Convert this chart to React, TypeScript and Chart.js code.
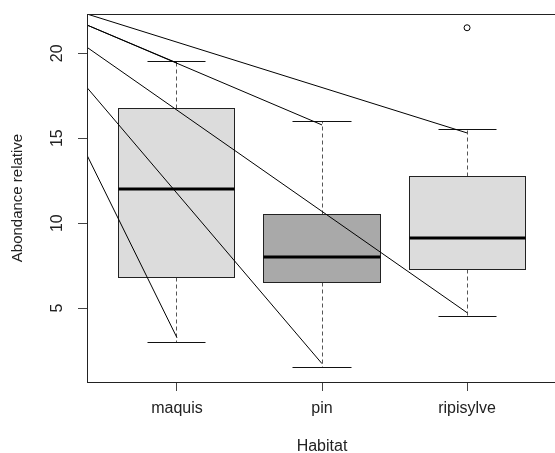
import React, { useEffect, useRef } from "react";
import { Chart, registerables } from "chart.js";

Chart.register(...registerables);

// ---- data ----
const habitats = ["maquis", "pin", "ripisylve"];
const positions = [1, 2, 3];
const whiskerLow = [3.0, 1.5, 4.5];
const quartile1 = [6.8, 6.5, 7.3];
const medians = [12.0, 8.0, 9.1];
const quartile3 = [16.75, 10.5, 12.75];
const whiskerHigh = [19.5, 16.0, 15.5];
const outlierPositions = [3];
const outlierValues = [21.5];
const yTicks = [5, 10, 15, 20];
const yRange = [0.65, 22.31];
const xRange = [0.38, 3.62];

// segments drawn from the left edge of the plot to near the whisker ends
const segmentStartValues = [22.31, 21.66, 21.66, 20.35, 17.98, 14.0];
const segmentEndPositions = [3, 2, 1, 3, 2, 1];
const segmentEndValues = [15.31, 15.78, 19.43, 4.73, 1.73, 3.26];

// ---- styles ----
const boxFills = ["#DCDCDC", "#A9A9A9", "#DCDCDC"];
const FONT = "'Liberation Sans', Arial, Helvetica, sans-serif";
const CANVAS_W = 600;
const CANVAS_H = 453;

const crisp = (v: number) => Math.round(v - 0.5) + 0.5;

const boxplotPlugin = {
  id: "boxplot",
  beforeDatasetsDraw(chart: any) {
    const { ctx, chartArea, scales } = chart;
    const x = scales.x;
    const y = scales.y;
    ctx.save();
    ctx.beginPath();
    ctx.rect(chartArea.left, chartArea.top, chartArea.right - chartArea.left, chartArea.bottom - chartArea.top);
    ctx.clip();
    positions.forEach((p, i) => {
      const cx = crisp(x.getPixelForValue(p));
      const bl = crisp(x.getPixelForValue(p - 0.4));
      const br = crisp(x.getPixelForValue(p + 0.4));
      const cl = crisp(x.getPixelForValue(p - 0.2));
      const cr = crisp(x.getPixelForValue(p + 0.2));
      const yLo = crisp(y.getPixelForValue(whiskerLow[i]));
      const yQ1 = crisp(y.getPixelForValue(quartile1[i]));
      const yMed = Math.round(y.getPixelForValue(medians[i]));
      const yQ3 = crisp(y.getPixelForValue(quartile3[i]));
      const yHi = crisp(y.getPixelForValue(whiskerHigh[i]));

      // dashed whiskers
      ctx.strokeStyle = "#555";
      ctx.lineWidth = 1;
      ctx.setLineDash([4, 3]);
      ctx.beginPath();
      ctx.moveTo(cx, yQ3);
      ctx.lineTo(cx, yHi);
      ctx.moveTo(cx, yQ1);
      ctx.lineTo(cx, yLo);
      ctx.stroke();
      ctx.setLineDash([]);

      // staples
      ctx.strokeStyle = "#111";
      ctx.beginPath();
      ctx.moveTo(cl, yHi);
      ctx.lineTo(cr, yHi);
      ctx.moveTo(cl, yLo);
      ctx.lineTo(cr, yLo);
      ctx.stroke();

      // box
      ctx.fillStyle = boxFills[i];
      ctx.fillRect(bl, yQ3, br - bl, yQ1 - yQ3);
      ctx.strokeStyle = "#222";
      ctx.strokeRect(bl, yQ3, br - bl, yQ1 - yQ3);

      // median
      ctx.strokeStyle = "#000";
      ctx.lineWidth = 3;
      ctx.beginPath();
      ctx.moveTo(bl, yMed);
      ctx.lineTo(br, yMed);
      ctx.stroke();
    });
    ctx.restore();
  },
  afterDraw(chart: any) {
    const { ctx, chartArea } = chart;
    ctx.save();
    ctx.strokeStyle = "#222";
    ctx.lineWidth = 1;
    const l = crisp(chartArea.left);
    const t = crisp(chartArea.top);
    const r = crisp(chartArea.right);
    const b = crisp(chartArea.bottom);
    ctx.strokeRect(l, t, r - l, b - t);
    ctx.restore();
  },
};

export default function App() {
  const canvasRef = useRef<HTMLCanvasElement | null>(null);

  useEffect(() => {
    const canvas = canvasRef.current;
    if (!canvas) return;

    const segmentDatasets = segmentStartValues.map((sv, i) => ({
      type: "line" as const,
      data: [
        { x: xRange[0], y: sv },
        { x: segmentEndPositions[i], y: segmentEndValues[i] },
      ],
      borderColor: "#000",
      borderWidth: 1,
      pointRadius: 0,
      fill: false,
      tension: 0,
    }));

    const chart = new Chart(canvas, {
      type: "scatter",
      data: {
        datasets: [
          ...segmentDatasets,
          {
            type: "scatter" as const,
            data: outlierPositions.map((p, i) => ({ x: p, y: outlierValues[i] })),
            borderColor: "#000",
            backgroundColor: "rgba(0,0,0,0)",
            borderWidth: 1,
            pointRadius: 3,
            pointStyle: "circle",
          },
        ] as any,
      },
      options: {
        animation: false,
        responsive: false,
        devicePixelRatio: 1,
        layout: { padding: { left: 0, top: 14, right: CANVAS_W - 557, bottom: 0 } },
        plugins: {
          legend: { display: false },
          tooltip: { enabled: false },
          title: { display: false },
        },
        scales: {
          x: {
            type: "linear",
            min: xRange[0],
            max: xRange[1],
            afterBuildTicks: (scale: any) => {
              scale.ticks = positions.map((v) => ({ value: v }));
            },
            afterFit: (scale: any) => {
              scale.height = 71;
              scale.paddingLeft = 0;
              scale.paddingRight = 0;
            },
            grid: {
              display: true,
              drawOnChartArea: false,
              drawTicks: true,
              tickLength: 9,
              tickColor: "#444",
              tickWidth: 1,
            },
            border: { display: true, color: "#222", width: 1 },
            ticks: {
              autoSkip: false,
              maxRotation: 0,
              minRotation: 0,
              padding: 8,
              color: "#222",
              font: { family: FONT, size: 16 },
              callback: (v: any) => habitats[positions.indexOf(Number(v))] ?? "",
            },
            title: {
              display: true,
              text: "Habitat",
              color: "#222",
              font: { family: FONT, size: 16 },
              padding: { top: 0, bottom: -3 },
            },
          },
          y: {
            type: "linear",
            min: yRange[0],
            max: yRange[1],
            afterBuildTicks: (scale: any) => {
              scale.ticks = yTicks.map((v) => ({ value: v }));
            },
            afterFit: (scale: any) => {
              scale.width = 87;
              scale.paddingTop = 0;
              scale.paddingBottom = 0;
            },
            grid: {
              display: true,
              drawOnChartArea: false,
              drawTicks: true,
              tickLength: 9,
              tickColor: "#444",
              tickWidth: 1,
            },
            border: { display: true, color: "#222", width: 1 },
            ticks: {
              minRotation: 90,
              maxRotation: 90,
              crossAlign: "center",
              padding: 12,
              color: "#222",
              font: { family: FONT, size: 16 },
              callback: (v: any) => String(v),
            },
            title: {
              display: true,
              text: "Abondance relative",
              color: "#222",
              font: { family: FONT, size: 15 },
              padding: { top: 9, bottom: 0 },
            },
          },
        },
      } as any,
      plugins: [boxplotPlugin],
    });

    return () => chart.destroy();
  }, []);

  return (
    <div
      style={{
        position: "fixed",
        left: 0,
        top: 0,
        width: 555,
        height: 453,
        overflow: "hidden",
        background: "#fff",
      }}
    >
      <canvas
        ref={canvasRef}
        width={CANVAS_W}
        height={CANVAS_H}
        style={{ width: CANVAS_W, height: CANVAS_H, display: "block" }}
      />
    </div>
  );
}
